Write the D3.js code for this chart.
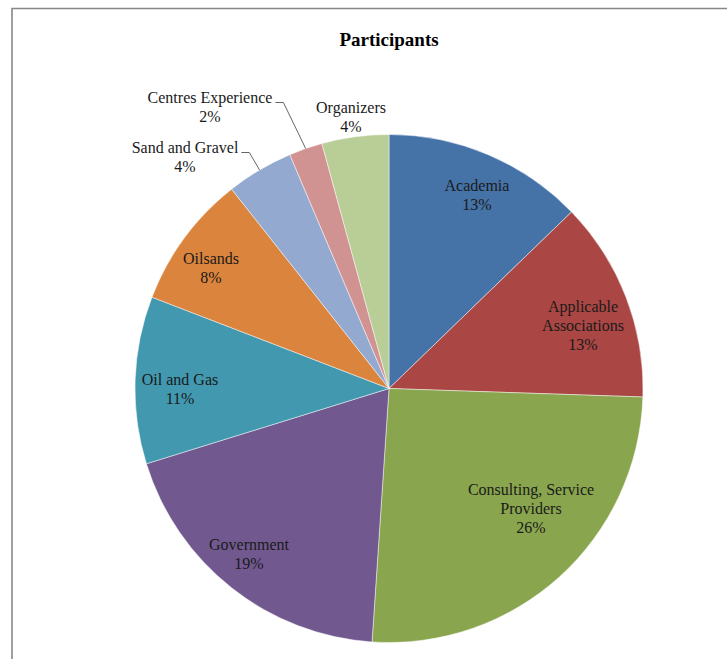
<!DOCTYPE html>
<html>
<head>
<meta charset="utf-8">
<script src="https://cdn.jsdelivr.net/npm/d3@7"></script>
<style>
  html, body { margin: 0; padding: 0; background: #fff; }
  svg { display: block; }
</style>
</head>
<body>
<svg id="chart" width="727" height="659"></svg>
<script>
// ---- data ----
const title = "Participants";
const categories = ["Academia", "Applicable Associations", "Consulting, Service Providers",
  "Government", "Oil and Gas", "Oilsands", "Sand and Gravel", "Centres Experience", "Organizers"];
const labelLines = [["Academia"], ["Applicable", "Associations"], ["Consulting, Service", "Providers"],
  ["Government"], ["Oil and Gas"], ["Oilsands"], ["Sand and Gravel"], ["Centres Experience"], ["Organizers"]];
const counts = [6, 6, 12, 9, 5, 4, 2, 1, 2];
const percentLabels = ["13%", "13%", "26%", "19%", "11%", "8%", "4%", "2%", "4%"];
const colors = ["#4572A7", "#AA4643", "#89A54E", "#71588F", "#4198AF", "#DB843D", "#93A9CF", "#D19392", "#B9CD96"];

// ---- layout ----
const W = 727, H = 659;
const cx = 389, cy = 388.5, R = 254;
const lineH = 19;
// label block centres relative to pie centre
const labelOffsets = [[88, -194], [194, -63.5], [142, 120], [-140, 165.5], [-209, 0],
  [-178, -121], [-204, -232], [-179, -282], [-38, -272]];
const leaderFor = [false, false, false, false, false, false, true, true, false];

const svg = d3.select("#chart");

// frame
svg.append("path")
  .attr("d", `M12,${H + 5} L12,8.5 L${W + 5},8.5`)
  .attr("fill", "none").attr("stroke", "#878787").attr("stroke-width", 1.6);

// title
svg.append("text")
  .attr("x", cx).attr("y", 46)
  .attr("text-anchor", "middle")
  .attr("font-family", "'Liberation Serif', 'Times New Roman', serif")
  .attr("font-weight", "bold").attr("font-size", 19)
  .attr("fill", "#000")
  .text(title);

const pie = d3.pie().sort(null).value(d => d)(counts);
const arc = d3.arc().innerRadius(0).outerRadius(R);

const g = svg.append("g").attr("transform", `translate(${cx},${cy})`);

g.selectAll("path.slice").data(pie).join("path")
  .attr("class", "slice")
  .attr("d", arc)
  .attr("fill", (d, i) => colors[i])
  .attr("stroke", "#fff").attr("stroke-width", 0.6).attr("stroke-opacity", 0.8);

// labels
const lbl = g.selectAll("g.lbl").data(pie).join("g").attr("class", "lbl");
lbl.each(function (d, i) {
  const lines = labelLines[i].concat([percentLabels[i]]);
  const [ox, oy] = labelOffsets[i];
  const top = oy - (lines.length - 1) * lineH / 2;
  const t = d3.select(this).append("text")
    .attr("text-anchor", "middle")
    .attr("font-family", "'Liberation Serif', 'Times New Roman', serif")
    .attr("font-size", 16)
    .attr("fill", "#1a1a1a");
  lines.forEach((ln, k) => {
    t.append("tspan").attr("x", ox).attr("y", top + k * lineH + 5.5).text(ln);
  });
  if (leaderFor[i]) {
    const first = t.select("tspan").node();
    const w = first.getComputedTextLength();
    const x0 = ox + w / 2 + 3;
    const y0 = top + 5.5;
    const mid = (d.startAngle + d.endAngle) / 2;
    const ex = Math.sin(mid) * R, ey = -Math.cos(mid) * R;
    d3.select(this).append("path")
      .attr("d", `M${x0},${y0} L${x0 + 8},${y0} L${ex},${ey}`)
      .attr("fill", "none").attr("stroke", "#555").attr("stroke-width", 0.9);
  }
});
</script>
</body>
</html>
